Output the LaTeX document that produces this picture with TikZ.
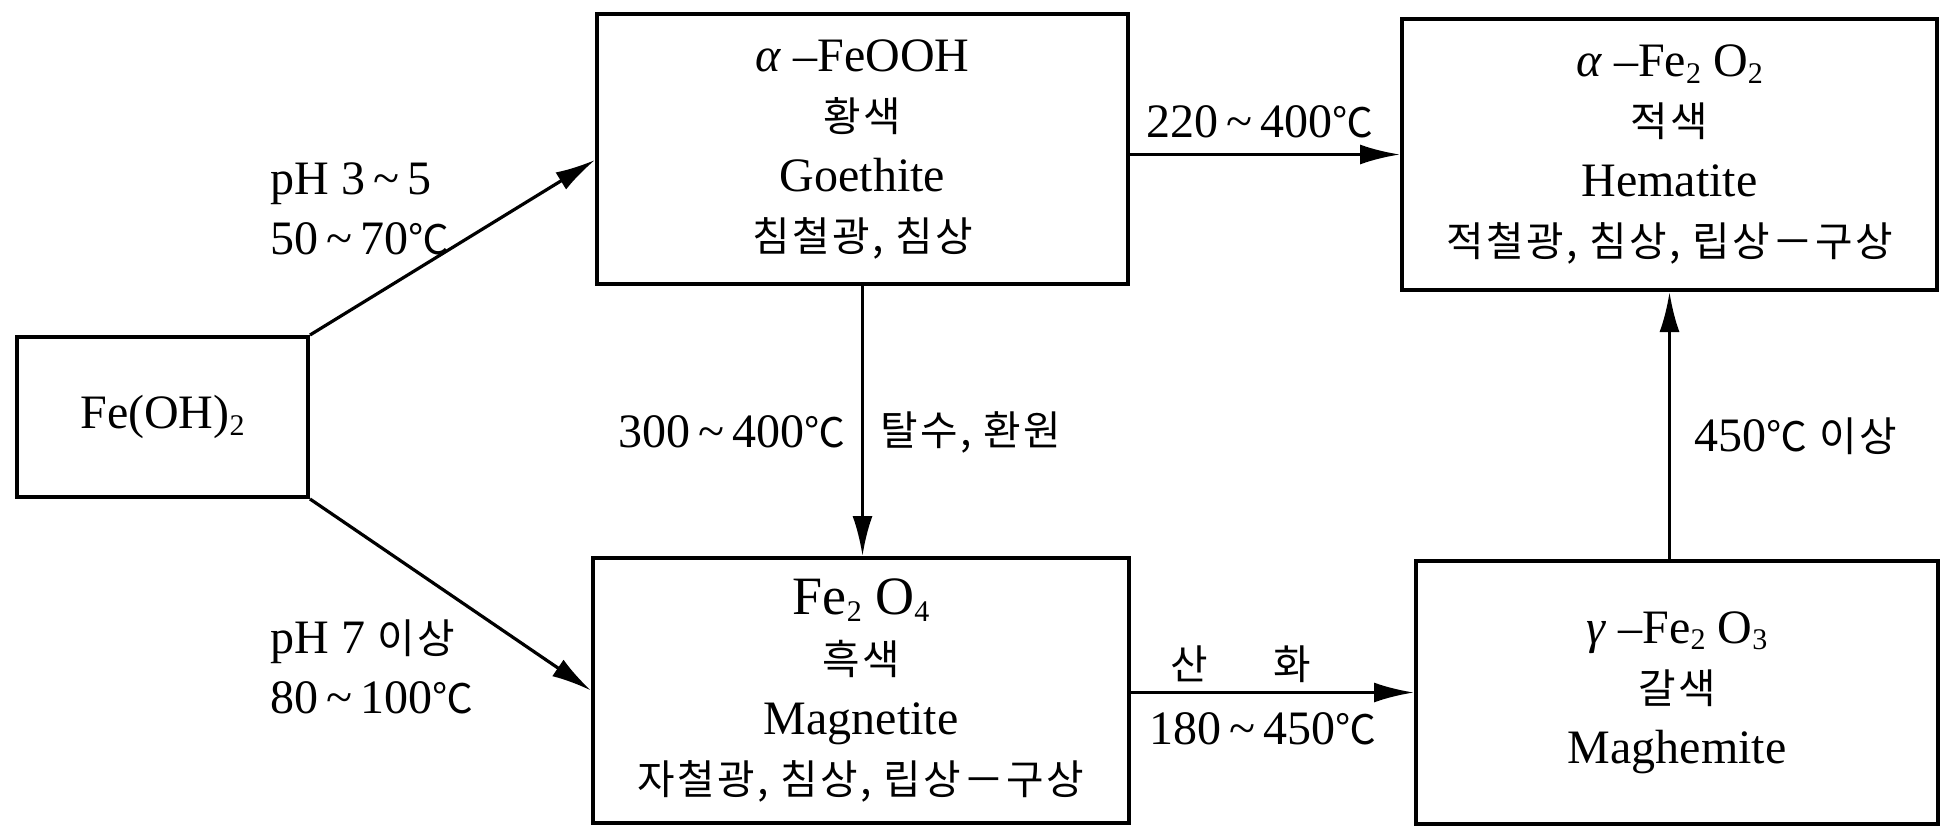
\documentclass[tikz,border=0pt]{standalone}
\usepackage{fontspec}
\setmainfont{Liberation Serif}
\newfontfamily\krfont[Scale=0.85,LetterSpace=6]{Noto Sans CJK KR}
\newcommand{\kor}[1]{{\krfont #1}}
\newcommand{\dgc}{{\krfont ℃}}
\newcommand{\subx}[1]{\raisebox{-0.3ex}{\fontsize{15}{15}\selectfont #1}}
\newcommand{\tld}{\,\textasciitilde\,}
\usetikzlibrary{arrows.meta,calc}
\begin{document}
\begin{tikzpicture}[x=0.5pt,y=-0.5pt,
  font=\fontsize{24}{30}\selectfont,
  box/.style={draw,line width=2pt,rectangle,inner sep=0pt,align=center},
  conn/.style={line width=1.6pt,-{Latex[length=20pt,width=10pt]}},
  lbl/.style={inner sep=0pt,align=left}]
\useasboundingbox (0,0) rectangle (1941,829);
% boxes
\node[box,minimum width=145.5pt,minimum height=80pt] (feoh) at (162.5,417) {Fe(OH)\subx{2}};
\node[box,minimum width=265.5pt,minimum height=135pt] (goe) at (862.5,149)
  {\textit{α} –FeOOH\\\kor{황색}\\Goethite\\\kor{침철광, 침상}};
\node[box,minimum width=267.5pt,minimum height=135.5pt] (hem) at (1669.5,154.5)
  {\textit{α} –Fe\subx{2} O\subx{2}\\\kor{적색}\\Hematite\\\kor{적철광, 침상, 립상－구상}};
\node[box,minimum width=268pt,minimum height=132.5pt] (mag) at (861,690.5)
  {{\fontsize{27}{30}\selectfont Fe\subx{2} O\subx{4}}\\\kor{흑색}\\Magnetite\\\kor{자철광, 침상, 립상－구상}};
\node[box,minimum width=261pt,minimum height=131.5pt] (magh) at (1677,692.5)
  {\textit{γ} –Fe\subx{2} O\subx{3}\\\kor{갈색}\\Maghemite};
% connectors
\draw[conn] (feoh.north east) -- ($(goe.west)+(0,11)$);
\draw[conn] (feoh.south east) -- (mag.west);
\draw[conn] (goe.east |- hem.west) -- (hem.west);
\draw[conn] (goe.south) -- (goe.south |- mag.north);
\draw[conn] (mag.east |- magh.west) -- (magh.west);
\draw[conn] (hem.south |- magh.north) -- (hem.south);
% labels
\node[lbl,anchor=west] (l1) at (270,209) {pH 3\tld 5\\50\tld 70\dgc};
\node[lbl,anchor=west] (l2) at (270,667) {pH 7 \kor{이상}\\80\tld 100\dgc};
\node[lbl] (l3) at (1260,122) {220\tld 400\dgc};
\node[lbl,anchor=east] (l4) at (846,432) {300\tld 400\dgc};
\node[lbl,anchor=west] (l5) at (880,432) {\kor{탈수, 환원}};
\node[lbl] (l6) at (1241,664) {\kor{산\hspace{1.6em}화}};
\node[lbl] (l7) at (1263,729) {180\tld 450\dgc};
\node[lbl,anchor=west] (l8) at (1694,436) {450\dgc\ \kor{이상}};
\end{tikzpicture}
\end{document}
